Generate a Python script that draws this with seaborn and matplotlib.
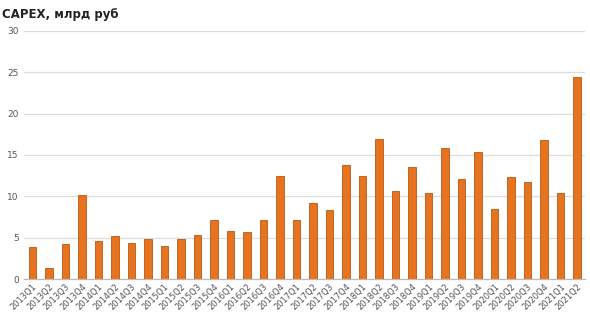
import matplotlib
matplotlib.use("Agg")
import matplotlib.pyplot as plt
import seaborn as sns
import pandas as pd
import numpy as np

quarters = ["2013Q1","2013Q2","2013Q3","2013Q4","2014Q1","2014Q2","2014Q3","2014Q4",
            "2015Q1","2015Q2","2015Q3","2015Q4","2016Q1","2016Q2","2016Q3","2016Q4",
            "2017Q1","2017Q2","2017Q3","2017Q4","2018Q1","2018Q2","2018Q3","2018Q4",
            "2019Q1","2019Q2","2019Q3","2019Q4","2020Q1","2020Q2","2020Q3","2020Q4",
            "2021Q1","2021Q2"]
capex = [3.9, 1.3, 4.2, 10.2, 4.6, 5.2, 4.4, 4.9,
         4.0, 4.8, 5.3, 7.1, 5.8, 5.7, 7.1, 12.4,
         7.1, 9.2, 8.4, 13.8, 12.5, 16.9, 10.6, 13.6,
         10.4, 15.8, 12.1, 15.3, 8.5, 12.3, 11.7, 16.8,
         10.4, 24.4]
yticks = [0, 5, 10, 15, 20, 25, 30]
title = "CAPEX, млрд руб"

df = pd.DataFrame({"quarter": quarters, "capex": capex})

sns.set_style("white")
plt.rcParams['font.family'] = ['DejaVu Sans']

fig = plt.figure(figsize=(5.9, 3.15), dpi=100)
ax = fig.add_axes([0.041, 0.114, 0.951, 0.788])

sns.barplot(data=df, x="quarter", y="capex", ax=ax, color="#E5731F",
            width=0.45, edgecolor="#B9590F", linewidth=0.6, saturation=1)

ax.set_ylim(0, 30)
ax.set_yticks(yticks)
ax.set_xlim(-0.5, len(quarters) - 0.5)
ax.yaxis.grid(True, color="#DDDDDD", linewidth=0.9)
ax.set_axisbelow(True)
for s in ["top", "right", "left"]:
    ax.spines[s].set_visible(False)
ax.spines["bottom"].set_color("#BBBBBB")
ax.spines["bottom"].set_linewidth(0.9)

ax.set_xlabel("")
ax.set_ylabel("")
ax.tick_params(axis="y", length=0, labelsize=6.5, labelcolor="#555555", pad=4)
ax.tick_params(axis="x", which="major", length=0, labelsize=6, labelcolor="#555555", pad=2)
plt.setp(ax.get_xticklabels(), rotation=45, ha="right", rotation_mode="anchor")
ax.set_xticks(np.arange(len(quarters) + 1) - 0.5, minor=True)
ax.tick_params(axis="x", which="minor", length=4, color="#BBBBBB", width=0.9)

fig.text(0.004, 0.955, title, fontsize=8.5, fontweight="bold", color="#222222",
         ha="left", va="center")

fig.savefig("out.png", dpi=100)
